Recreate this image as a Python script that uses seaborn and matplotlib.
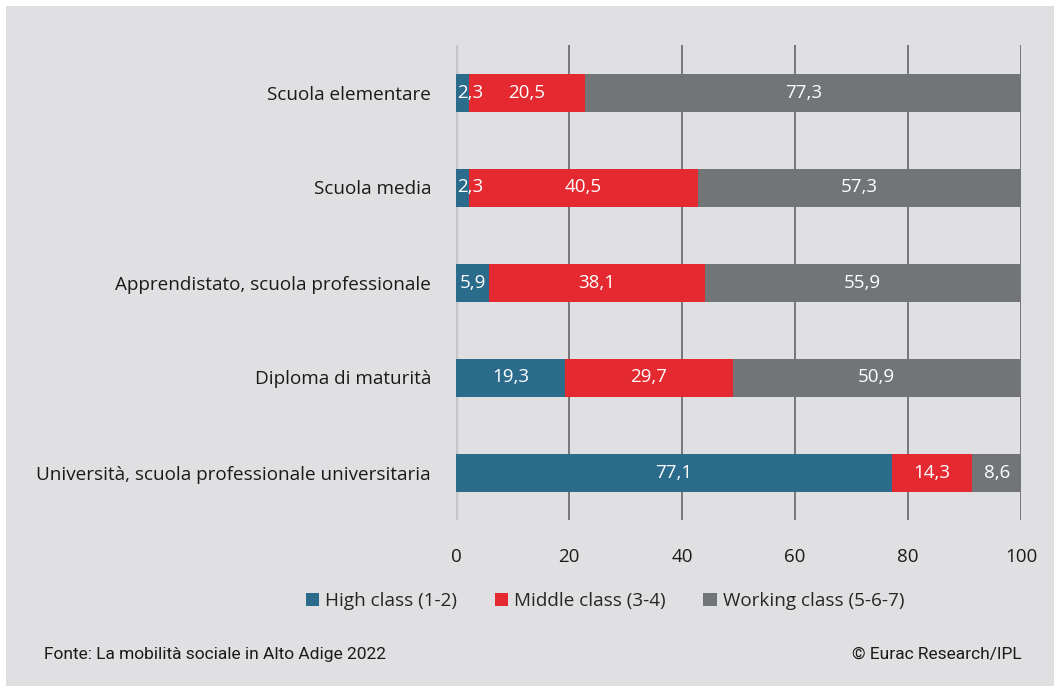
import matplotlib
matplotlib.use("Agg")
import matplotlib.pyplot as plt
from matplotlib.patches import Rectangle, Patch
import seaborn as sns
import pandas as pd
import numpy as np

categories = [
    "Scuola elementare",
    "Scuola media",
    "Apprendistato, scuola professionale",
    "Diploma di maturità",
    "Università, scuola professionale universitaria",
]
high_class = [2.3, 2.3, 5.9, 19.3, 77.1]
middle_class = [20.5, 40.5, 38.1, 29.7, 14.3]
working_class = [77.3, 57.3, 55.9, 50.9, 8.6]
series_names = ["High class (1-2)", "Middle class (3-4)", "Working class (5-6-7)"]
x_ticks = [0, 20, 40, 60, 80, 100]

colors = ["#2b6b8c", "#e42a30", "#727578"]
bg = "#e0e0e2"

sns.set_theme(style="white")
plt.rcParams["font.family"] = ["Open Sans", "DejaVu Sans"]

fig = plt.figure(figsize=(10.60, 6.86), dpi=100, facecolor="white")
fig.patches.append(Rectangle((6 / 1060, 0), 1 - 12 / 1060, 1 - 6 / 686,
                             transform=fig.transFigure, facecolor=bg,
                             edgecolor="none", zorder=-10))

ax = fig.add_axes([456 / 1060, 1 - 520 / 686, 565 / 1060, 475 / 686])
ax.set_facecolor(bg)

df = pd.DataFrame({
    "cat": categories,
    "high": high_class,
    "middle": middle_class,
    "working": working_class,
})
df["cum_hm"] = df["high"] + df["middle"]
df["cum_all"] = df["cum_hm"] + df["working"]

# Stacked bars: draw cumulative totals first, then overlay shorter stacks
for col, c in zip(["cum_all", "cum_hm", "high"], colors[::-1]):
    sns.barplot(data=df, y="cat", x=col, orient="h", color=c, width=0.4,
                saturation=1, ax=ax, zorder=3, linewidth=0)

# Value labels centred in each segment; very thin segments get a left-anchored label
starts = [np.zeros(len(df)), df["high"].values, df["cum_hm"].values]
for vals, st in zip([df["high"].values, df["middle"].values, df["working"].values], starts):
    for i, (v, s) in enumerate(zip(vals, st)):
        txt = f"{v:.1f}".replace(".", ",")
        if v < 4:
            ax.text(s + 0.15, i, txt, ha="left", va="center",
                    color="white", fontsize=13.5, zorder=5)
        else:
            ax.text(s + v / 2, i, txt, ha="center", va="center",
                    color="white", fontsize=13.5, zorder=5)

ax.set_xlim(0, 100)
ax.set_ylim(4.5, -0.5)
ax.set_xticks(x_ticks)
ax.set_xticklabels([str(t) for t in x_ticks], fontsize=13.5, color="#1a1a1a")
ax.tick_params(axis="x", length=0, pad=20)
ax.tick_params(axis="y", length=0, pad=18, labelsize=13.6, labelcolor="#1a1a1a")
ax.set_xlabel("")
ax.set_ylabel("")
for s in ax.spines.values():
    s.set_visible(False)

for t in x_ticks:
    if t == 0:
        ax.axvline(t, color="#c6c6c8", lw=2.5, zorder=1)
    else:
        ax.axvline(t, color="#6e6e70", lw=1.3, zorder=1)

handles = [Patch(facecolor=c, edgecolor="none") for c in colors]
fig.legend(handles, series_names, loc="center", bbox_to_anchor=(605 / 1060, 1 - 601 / 686),
           ncol=3, frameon=False, fontsize=13.6, handlelength=0.72, handleheight=0.72,
           handletextpad=0.3, columnspacing=2.0)

foot_font = ["Roboto", "DejaVu Sans"]
fig.text(44 / 1060, 1 - 655 / 686, "Fonte: La mobilità sociale in Alto Adige 2022",
         ha="left", va="center", fontsize=12.5, color="#1a1a1a", family=foot_font)
fig.text(1022 / 1060, 1 - 655 / 686, "© Eurac Research/IPL",
         ha="right", va="center", fontsize=12.5, color="#1a1a1a", family=foot_font)

fig.savefig("out.png", dpi=100, facecolor="white")
